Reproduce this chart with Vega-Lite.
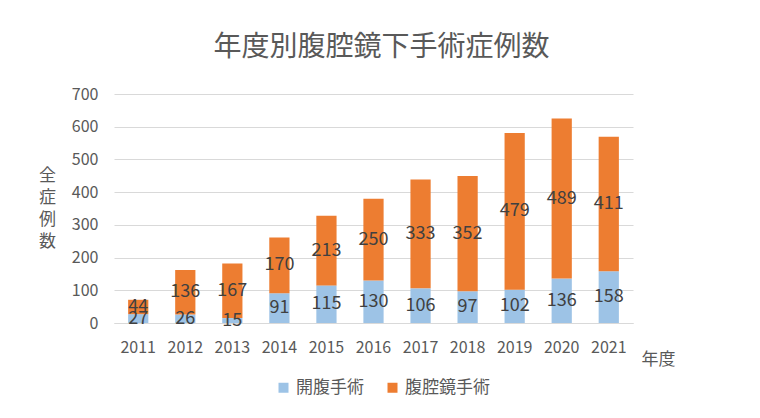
{
  "$schema": "https://vega.github.io/schema/vega-lite/v6.json",
  "width": 519,
  "height": 229,
  "autosize": "none",
  "padding": {"left": 114, "top": 94, "right": 127, "bottom": 95},
  "background": "white",
  "config": {"font": "Noto Sans CJK JP", "view": {"stroke": null}},
  "title": {"text": "年度別腹腔鏡下手術症例数", "font": "Noto Sans CJK JP", "fontSize": 28, "fontWeight": "normal", "color": "#595959", "anchor": "middle", "dx": 8, "offset": 24},
  "data": {"values": [
    {"year": "2011", "series": "開腹手術", "count": 27},
    {"year": "2011", "series": "腹腔鏡手術", "count": 44},
    {"year": "2012", "series": "開腹手術", "count": 26},
    {"year": "2012", "series": "腹腔鏡手術", "count": 136},
    {"year": "2013", "series": "開腹手術", "count": 15},
    {"year": "2013", "series": "腹腔鏡手術", "count": 167},
    {"year": "2014", "series": "開腹手術", "count": 91},
    {"year": "2014", "series": "腹腔鏡手術", "count": 170},
    {"year": "2015", "series": "開腹手術", "count": 115},
    {"year": "2015", "series": "腹腔鏡手術", "count": 213},
    {"year": "2016", "series": "開腹手術", "count": 130},
    {"year": "2016", "series": "腹腔鏡手術", "count": 250},
    {"year": "2017", "series": "開腹手術", "count": 106},
    {"year": "2017", "series": "腹腔鏡手術", "count": 333},
    {"year": "2018", "series": "開腹手術", "count": 97},
    {"year": "2018", "series": "腹腔鏡手術", "count": 352},
    {"year": "2019", "series": "開腹手術", "count": 102},
    {"year": "2019", "series": "腹腔鏡手術", "count": 479},
    {"year": "2020", "series": "開腹手術", "count": 136},
    {"year": "2020", "series": "腹腔鏡手術", "count": 489},
    {"year": "2021", "series": "開腹手術", "count": 158},
    {"year": "2021", "series": "腹腔鏡手術", "count": 411}
  ]},
  "encoding": {
    "x": {
      "field": "year", "type": "ordinal",
      "scale": {"paddingInner": 0.57, "paddingOuter": 0.3},
      "axis": {"labelAngle": 0, "labelFontSize": 16, "labelColor": "#595959", "labelPadding": 16, "ticks": false, "domainColor": "#d9d9d9", "title": "年度", "titleX": 544, "titleY": 36, "titleFontSize": 17, "titleFontWeight": "normal", "titleColor": "#595959", "titleBaseline": "middle", "titleAlign": "center"}
    },
    "y": {
      "field": "count", "type": "quantitative", "stack": "zero",
      "scale": {"domain": [0, 700]},
      "axis": {"values": [0, 100, 200, 300, 400, 500, 600, 700], "labelFontSize": 16, "labelColor": "#595959", "labelPadding": 16, "ticks": false, "domain": false, "gridColor": "#d9d9d9", "title": ["全", "症", "例", "数"], "titleAngle": 0, "titleFontSize": 17, "titleLineHeight": 22, "titleColor": "#595959", "titleFontWeight": "normal", "titleX": -67, "titleY": 73, "titleBaseline": "top", "titleAlign": "center"}
    },
    "order": {"field": "series", "sort": "descending"}
  },
  "layer": [
    {
      "mark": {"type": "bar"},
      "encoding": {
        "color": {
          "field": "series", "type": "nominal",
          "scale": {"domain": ["開腹手術", "腹腔鏡手術"], "range": ["#9DC3E6", "#ED7D31"]},
          "legend": {"orient": "none", "legendX": 161, "legendY": 285, "direction": "horizontal", "title": null, "labelFontSize": 17, "labelColor": "#595959", "symbolType": "square", "symbolSize": 100, "symbolStrokeWidth": 0, "columnPadding": 20, "labelOffset": 4}
        }
      }
    },
    {
      "mark": {"type": "text", "fontSize": 18, "color": "#404040", "baseline": "middle"},
      "encoding": {
        "y": {"field": "count", "type": "quantitative", "stack": "zero", "bandPosition": 0.5},
        "detail": {"field": "series"},
        "text": {"field": "count", "type": "quantitative"}
      }
    }
  ]
}
